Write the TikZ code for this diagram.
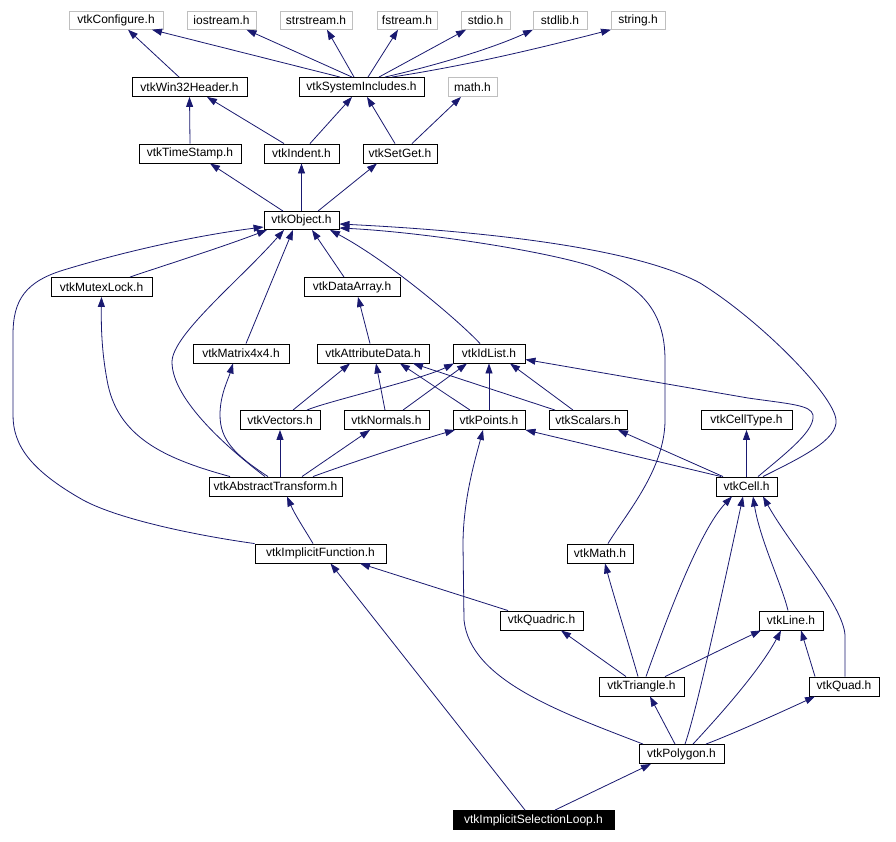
\documentclass[tikz,border=0pt]{standalone}
\usepackage{fontspec}
\setmainfont{Liberation Sans}
\usetikzlibrary{arrows.meta}
\definecolor{navy}{RGB}{25,25,112}
\definecolor{gbord}{RGB}{191,191,191}
\begin{document}
\begin{tikzpicture}[x=1pt,y=-1pt,
  box/.style={draw=black, line width=0.9pt, fill=white, inner sep=0pt, minimum height=19pt, font=\fontsize{12}{14}\selectfont, anchor=center},
  gbox/.style={box, draw=gbord, minimum height=17.5pt},
  selbox/.style={box, fill=black, text=white},
  edge/.style={draw=navy, line width=0.8pt, -{Triangle[length=10pt,width=7pt]}}]
\useasboundingbox[fill=white] (0,0) rectangle (896,842);
% row 0
\node[gbox, minimum width=94pt] (conf) at (116,20.5) {vtkConfigure.h};
\node[gbox, minimum width=69pt] (ios) at (221.5,20.5) {iostream.h};
\node[gbox, minimum width=72pt] (strs) at (316,20.5) {strstream.h};
\node[gbox, minimum width=60pt] (fstr) at (407,20.5) {fstream.h};
\node[gbox, minimum width=49pt] (stdio) at (485.5,20.5) {stdio.h};
\node[gbox, minimum width=54pt] (stdlib) at (560,20.5) {stdlib.h};
\node[gbox, minimum width=54pt] (string) at (638,20.5) {string.h};
% row 1
\node[box, minimum width=115pt] (win32) at (189.5,87) {vtkWin32Header.h};
\node[box, minimum width=125pt] (sysinc) at (361.5,87) {vtkSystemIncludes.h};
\node[gbox, minimum width=49pt, minimum height=19pt] (math) at (472.5,87) {math.h};
% row 2
\node[box, minimum width=102pt] (tstamp) at (190,153.5) {vtkTimeStamp.h};
\node[box, minimum width=75pt] (indent) at (301.5,153.5) {vtkIndent.h};
\node[box, minimum width=74pt] (setget) at (400,153.5) {vtkSetGet.h};
% row 3
\node[box, minimum width=75pt, minimum height=18pt] (object) at (301.5,220.5) {vtkObject.h};
% row 4
\node[box, minimum width=101pt] (mutex) at (101.5,287) {vtkMutexLock.h};
\node[box, minimum width=96pt] (dataarr) at (352,287) {vtkDataArray.h};
% row 5
\node[box, minimum width=96pt] (matrix) at (241,353.5) {vtkMatrix4x4.h};
\node[box, minimum width=112pt] (attr) at (373,353.5) {vtkAttributeData.h};
\node[box, minimum width=72pt] (idlist) at (489,353.5) {vtkIdList.h};
% row 6
\node[box, minimum width=80pt] (vectors) at (280,420) {vtkVectors.h};
\node[box, minimum width=85pt] (normals) at (386.5,420) {vtkNormals.h};
\node[box, minimum width=72pt] (points) at (489,420) {vtkPoints.h};
\node[box, minimum width=78pt] (scalars) at (588,420) {vtkScalars.h};
\node[box, minimum width=91pt] (celltype) at (746.5,420) {vtkCellType.h};
% row 7
\node[box, minimum width=133pt] (abstr) at (275.5,486.5) {vtkAbstractTransform.h};
\node[box, minimum width=61pt] (cell) at (746.5,486.5) {vtkCell.h};
% row 8
\node[box, minimum width=131pt] (implf) at (320.5,553.5) {vtkImplicitFunction.h};
\node[box, minimum width=66pt] (vmath) at (600,553.5) {vtkMath.h};
% row 9
\node[box, minimum width=83pt] (quadric) at (541.5,620.5) {vtkQuadric.h};
\node[box, minimum width=64pt] (line) at (791,620.5) {vtkLine.h};
% row 10
\node[box, minimum width=85pt] (triangle) at (641.5,686.5) {vtkTriangle.h};
\node[box, minimum width=70pt] (quad) at (844,686.5) {vtkQuad.h};
% row 11
\node[box, minimum width=85pt] (polygon) at (681.5,754) {vtkPolygon.h};
% row 12
\node[selbox, minimum width=161pt] (isl) at (533.5,820) {vtkImplicitSelectionLoop.h};

% ---- edges: top
\draw[edge] ([xshift=-10.5pt]win32.north) -- ([xshift=12pt]conf.south);
\draw[edge] ([xshift=-21.5pt]sysinc.north) -- ([xshift=36pt]conf.south);
\draw[edge] ([xshift=-9.5pt]sysinc.north) -- ([xshift=25pt]ios.south);
\draw[edge] ([xshift=-7.5pt]sysinc.north) -- ([xshift=11pt]strs.south);
\draw[edge] ([xshift=6.5pt]sysinc.north) -- ([xshift=-9pt]fstr.south);
\draw[edge] ([xshift=17.5pt]sysinc.north) -- ([xshift=-19.5pt]stdio.south);
\draw[edge] ([xshift=23.5pt]sysinc.north) .. controls (450,62) and (500,45) .. ([xshift=-27pt]stdlib.south);
\draw[edge] ([xshift=30.5pt]sysinc.north) .. controls (470,65) and (540,48) .. ([xshift=-27pt]string.south);
\draw[edge] (tstamp.north) -- (win32.south);
\draw[edge] ([xshift=-17.5pt]indent.north) -- ([xshift=17.5pt]win32.south);
\draw[edge] ([xshift=8.5pt]indent.north) -- ([xshift=-9.5pt]sysinc.south);
\draw[edge] ([xshift=-5pt]setget.north) -- ([xshift=5.5pt]sysinc.south);
\draw[edge] ([xshift=12pt]setget.north) -- ([xshift=-11.5pt]math.south);
\draw[edge] ([xshift=-18.5pt]object.north) -- ([xshift=20pt]tstamp.south);
\draw[edge] (object.north) -- (indent.south);
\draw[edge] ([xshift=16.5pt]object.north) -- ([xshift=-23pt]setget.south);

% ---- to vtkObject
\draw[edge] ([xshift=28.5pt]mutex.north) .. controls (150,270) and (220,248) .. ([xshift=-34.5pt]object.south);
\draw[edge] ([xshift=5pt]matrix.north) -- ([xshift=-8.5pt]object.south);
\draw[edge] ([xshift=-8pt]dataarr.north) -- ([xshift=10.5pt]object.south);
\draw[edge] ([xshift=-9pt]idlist.north) .. controls (460,322) and (390,262) .. ([xshift=28.5pt]object.south);
\draw[edge] (implf.north west) .. controls (200,536) and (120,520) .. (83,500)
  .. controls (30,470) and (13,445) .. (13,415) -- (13,335)
  .. controls (13,300) and (25,281) .. (67,269)
  .. controls (130,250) and (200,235) .. ([yshift=-6.5pt]object.west);
\draw[edge] ([xshift=-10.5pt]abstr.north) .. controls (230,450) and (172,400) .. (172,362)
  .. controls (172,335) and (240,280) .. ([xshift=-17.5pt]object.south);
\draw[edge] ([xshift=8pt]vmath.north) .. controls (625,515) and (665,470) .. (665,420) -- (665,360)
  .. controls (665,310) and (640,285) .. (591,266)
  .. controls (540,250) and (420,232) .. ([yshift=-7.5pt]object.east);
\draw[edge] ([xshift=16.5pt]cell.north) .. controls (800,458) and (838,440) .. (836,420)
  .. controls (834,395) and (760,320) .. (700,283)
  .. controls (620,240) and (420,228) .. ([yshift=-3.5pt]object.east);

% ---- middle
\draw[edge] ([xshift=-3pt]attr.north) -- ([xshift=6pt]dataarr.south);
\draw[edge] ([xshift=-45.5pt]abstr.north) .. controls (170,460) and (120,440) .. (108,385)
  .. controls (102,355) and (101,330) .. (mutex.south);
\draw[edge] ([xshift=-7.5pt]abstr.north) .. controls (235,455) and (220,440) .. (220,415)
  .. controls (220,395) and (228,380) .. ([xshift=-8pt]matrix.south);
\draw[edge] ([xshift=13pt]vectors.north) -- ([xshift=-23pt]attr.south);
\draw[edge] ([xshift=27pt]vectors.north) .. controls (325,402) and (420,380) .. ([xshift=-35pt]idlist.south);
\draw[edge] ([xshift=-1.5pt]normals.north) -- ([xshift=3pt]attr.south);
\draw[edge] ([xshift=16.5pt]normals.north) -- ([xshift=-22pt]idlist.south);
\draw[edge] ([xshift=-19pt]points.north) -- ([xshift=27pt]attr.south);
\draw[edge] (points.north) -- (idlist.south);
\draw[edge] ([xshift=-33pt]scalars.north) -- ([xshift=40pt]attr.south);
\draw[edge] ([xshift=-15pt]scalars.north) -- ([xshift=21pt]idlist.south);
\draw[edge] ([xshift=4.5pt]abstr.north) -- (vectors.south);
\draw[edge] ([xshift=26.5pt]abstr.north) -- ([xshift=-16.5pt]normals.south);
\draw[edge] ([xshift=37.5pt]abstr.north) .. controls (350,463) and (420,440) .. ([xshift=-34pt]points.south);
\draw[edge] ([xshift=11.5pt]cell.north) .. controls (790,450) and (815,430) .. (813,415)
  .. controls (811,405) and (790,404) .. (748,398) -- ([yshift=-6pt]idlist.east);
\draw[edge] ([xshift=-25.5pt]cell.north) -- (points.south east);
\draw[edge] ([xshift=-23.5pt]cell.north) -- ([xshift=30pt]scalars.south);
\draw[edge] (cell.north) -- (celltype.south);

% ---- lower
\draw[edge] ([xshift=-7.5pt]implf.north) .. controls (305,530) and (295,515) .. ([xshift=11.5pt]abstr.south);
\draw[edge] ([xshift=-33.5pt]quadric.north) -- ([xshift=39.5pt]implf.south);
\draw[edge] ([xshift=-8.5pt]isl.north) -- ([xshift=10pt]implf.south);
\draw[edge] ([xshift=21.5pt]isl.north) -- ([xshift=-30.5pt]polygon.south);
\draw[edge] ([xshift=4.5pt]triangle.north) .. controls (668,615) and (700,530) .. ([xshift=-14.5pt]cell.south);
\draw[edge] ([xshift=-3.5pt]triangle.north) .. controls (632,655) and (612,590) .. ([xshift=5pt]vmath.south);
\draw[edge] ([xshift=-15.5pt]triangle.north) -- ([xshift=19.5pt]quadric.south);
\draw[edge] ([xshift=23.5pt]triangle.north) .. controls (690,665) and (730,645) .. ([xshift=-30pt]line.south);
\draw[edge] ([xshift=-3pt]line.north) .. controls (782,585) and (760,540) .. ([xshift=6.5pt]cell.south);
\draw[edge] ([xshift=1pt]quad.north) -- (845,635) .. controls (843,605) and (790,545) .. ([xshift=16.5pt]cell.south);
\draw[edge] ([xshift=-29pt]quad.north) -- ([xshift=10pt]line.south);
\draw[edge] ([xshift=-6.5pt]polygon.north) -- ([xshift=8.5pt]triangle.south);
\draw[edge] ([xshift=3.5pt]polygon.north) .. controls (697,710) and (725,580) .. ([xshift=-3.5pt]cell.south);
\draw[edge] ([xshift=11.5pt]polygon.north) .. controls (720,715) and (760,670) .. ([xshift=-10pt]line.south);
\draw[edge] ([xshift=24.5pt]polygon.north) .. controls (730,735) and (775,715) .. ([xshift=-29pt]quad.south);
\draw[edge] ([xshift=-38.5pt]polygon.north) .. controls (560,712) and (470,680) .. (464,620) -- (463,545)
  .. controls (463,500) and (475,460) .. ([xshift=-6pt]points.south);
\end{tikzpicture}
\end{document}
